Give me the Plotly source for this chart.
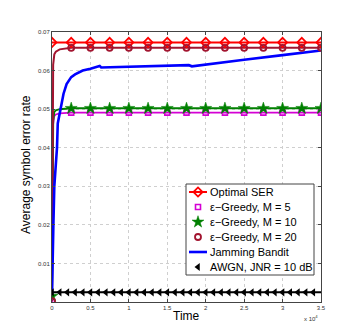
import plotly.graph_objects as go

# Time axis in units of 1e4
t_mark = [0.0, 0.25, 0.5, 0.75, 1.0, 1.25, 1.5, 1.75, 2.0, 2.25, 2.5, 2.75, 3.0, 3.25, 3.5]
opt_ser = [0.0673] * 15

t_greedy = [0.0, 0.004, 0.008, 0.015, 0.03, 0.05, 0.1, 0.15, 0.25, 0.5, 0.75, 1.0, 1.25, 1.5,
            1.75, 2.0, 2.25, 2.5, 2.75, 3.0, 3.25, 3.5]
greedy_m5 = [0.0, 0.02, 0.04, 0.046, 0.0482, 0.0486, 0.0489, 0.049, 0.0491, 0.0491, 0.0491,
             0.0491, 0.0491, 0.0491, 0.0491, 0.0491, 0.0491, 0.0491, 0.0491, 0.0491, 0.0491, 0.0491]
greedy_m10 = [0.0015, 0.02, 0.042, 0.047, 0.0493, 0.0497, 0.05, 0.0501, 0.0502, 0.0502, 0.0502,
              0.0502, 0.0502, 0.0502, 0.0502, 0.0502, 0.0502, 0.0502, 0.0502, 0.0502, 0.0502, 0.0502]
greedy_m20 = [0.0002, 0.03, 0.055, 0.0615, 0.0642, 0.0649, 0.0655, 0.0657, 0.0659, 0.0659, 0.0659,
              0.0659, 0.0659, 0.0659, 0.0659, 0.0659, 0.0659, 0.0659, 0.0659, 0.0659, 0.0659, 0.0659]

t_bandit = [0.0, 0.005, 0.012, 0.018, 0.03, 0.065, 0.075, 0.11, 0.15, 0.19, 0.25, 0.3, 0.4, 0.5,
            0.6, 0.62, 0.64, 1.0, 1.5, 1.78, 1.82, 2.0, 2.5, 3.0, 3.5]
bandit = [0.002, 0.01, 0.016, 0.02, 0.03, 0.04, 0.0463, 0.05, 0.054, 0.0565, 0.0583, 0.059,
          0.06, 0.0605, 0.0611, 0.0612, 0.0608, 0.061, 0.0612, 0.0614, 0.0611, 0.0616, 0.0628,
          0.064, 0.0652]

t_awgn = [i / 10 for i in range(0, 35)] + [3.5]
awgn = [0.0025] * len(t_awgn)

xticks = [0, 0.5, 1, 1.5, 2, 2.5, 3, 3.5]
xticklabels = ["0", "0.5", "1", "1.5", "2", "2.5", "3", "3.5"]
yticks = [0.01, 0.02, 0.03, 0.04, 0.05, 0.06, 0.07]
yticklabels = ["0.01", "0.02", "0.03", "0.04", "0.05", "0.06", "0.07"]

legend_labels = ["Optimal SER", "\u03b5\u2212Greedy, M = 5", "\u03b5\u2212Greedy, M = 10",
                 "\u03b5\u2212Greedy, M = 20", "Jamming Bandit", "AWGN, JNR = 10 dB"]

RED = "#ff0000"
MAG = "#d400d4"
GRN = "#008000"
DRED = "#a2142f"
BLUE = "#0000ff"
FONT = "Liberation Sans, Arial, sans-serif"

W, H = 346, 331
L, R, T, B = 44, 33, 24, 37

def px_x(px):
    return (px - L) / (W - L - R)

def px_y(py):
    return (H - B - py) / (H - T - B)

def at_marks(ts, vs):
    mx, my = [], []
    for tt, vv in zip(ts, vs):
        if abs(tt * 4 - round(tt * 4)) < 1e-9:
            mx.append(tt)
            my.append(vv)
    return mx, my

m_opt = dict(symbol="diamond-open", size=7, color=RED, line=dict(color=RED, width=1.8))
m_m5 = dict(symbol="square-open", size=5, color=MAG, line=dict(color=MAG, width=1.6))
m_m10 = dict(symbol="star", size=9, color=GRN, line=dict(color=GRN, width=0.5))
m_m20 = dict(symbol="circle-open", size=6, color=DRED, line=dict(color=DRED, width=1.8))
m_awgn = dict(symbol="triangle-left", size=7, color="#000000", line=dict(width=0))

fig = go.Figure()

for ts, vs, col, w in [(t_greedy, greedy_m5, MAG, 1.6), (t_greedy, greedy_m10, GRN, 2),
                       (t_greedy, greedy_m20, DRED, 2), (t_awgn, awgn, "#000000", 2)]:
    fig.add_trace(go.Scatter(x=ts, y=vs, mode="lines", line=dict(color=col, width=w),
                             showlegend=False))

fig.add_trace(go.Scatter(x=t_bandit, y=bandit, mode="lines", line=dict(color=BLUE, width=2.6),
                         showlegend=False))
fig.add_trace(go.Scatter(x=t_mark, y=opt_ser, mode="lines+markers", line=dict(color=RED, width=2),
                         marker=m_opt, showlegend=False))
for ts, vs, mk in [(t_greedy, greedy_m5, m_m5), (t_greedy, greedy_m10, m_m10),
                   (t_greedy, greedy_m20, m_m20)]:
    mx, my = at_marks(ts, vs)
    fig.add_trace(go.Scatter(x=mx, y=my, mode="markers", marker=mk, showlegend=False))
fig.add_trace(go.Scatter(x=t_awgn[:-1], y=awgn[:-1], mode="markers", marker=m_awgn,
                         showlegend=False))

# ---- custom legend on a pixel-coordinate overlay axis ----
lx0, lx1, ly0, ly1 = 178, 306, 176, 267
row_y = [184 + 15 * i for i in range(6)]
sym_x0, sym_x1, sym_xc = 181, 199, 190
text_x = 200

fig.add_trace(go.Scatter(x=[lx0, lx1, lx1, lx0, lx0], y=[ly0, ly0, ly1, ly1, ly0],
                         mode="lines", fill="toself", fillcolor="white",
                         line=dict(color="#444444", width=1), xaxis="x2", yaxis="y2",
                         showlegend=False, hoverinfo="skip"))
fig.add_trace(go.Scatter(x=[sym_x0, sym_x1], y=[row_y[0]] * 2, mode="lines",
                         line=dict(color=RED, width=2), xaxis="x2", yaxis="y2", showlegend=False))
fig.add_trace(go.Scatter(x=[sym_x0, sym_x1], y=[row_y[4]] * 2, mode="lines",
                         line=dict(color=BLUE, width=2.6), xaxis="x2", yaxis="y2", showlegend=False))
for i, mk in [(0, m_opt), (1, m_m5), (2, m_m10), (3, m_m20), (5, m_awgn)]:
    fig.add_trace(go.Scatter(x=[sym_xc], y=[row_y[i]], mode="markers", marker=mk,
                             xaxis="x2", yaxis="y2", showlegend=False))

annotations = []
for i, lab in enumerate(legend_labels):
    annotations.append(dict(text=lab, x=text_x, y=row_y[i], xref="x2", yref="y2",
                            xanchor="left", yanchor="middle", showarrow=False,
                            font=dict(family=FONT, size=11, color="#000000")))
annotations.append(dict(text="x 10<sup>4</sup>", x=px_x(303), y=px_y(310), xref="paper",
                        yref="paper", xanchor="center", yanchor="middle", showarrow=False,
                        font=dict(family=FONT, size=6, color="#333333")))
annotations.append(dict(text="Time", x=px_x(178), y=px_y(308), xref="paper", yref="paper",
                        xanchor="center", yanchor="middle", showarrow=False,
                        font=dict(family=FONT, size=12, color="#000000")))
annotations.append(dict(text="Average symbol error rate", x=px_x(18), y=px_y(157),
                        xref="paper", yref="paper", xanchor="center", yanchor="middle",
                        showarrow=False, textangle=-90,
                        font=dict(family=FONT, size=12, color="#000000")))

axis_common = dict(showline=True, linecolor="#444444", linewidth=1, mirror="ticks",
                   ticks="inside", ticklen=3, tickcolor="#444444",
                   showgrid=True, gridcolor="#cfcfcf", griddash="dot", gridwidth=1,
                   zeroline=False, tickfont=dict(family=FONT, size=6, color="#333333"))

fig.update_layout(
    width=W, height=H,
    margin=dict(l=L, r=R, t=T, b=B),
    paper_bgcolor="white", plot_bgcolor="white",
    font=dict(family=FONT, color="#000000"),
    showlegend=False,
    xaxis=dict(range=[0, 3.5], tickvals=xticks, ticktext=xticklabels, **axis_common),
    yaxis=dict(range=[0, 0.07], tickvals=yticks, ticktext=yticklabels, **axis_common),
    xaxis2=dict(range=[L, W - R], overlaying="x", visible=False, fixedrange=True),
    yaxis2=dict(range=[H - B, T], overlaying="y", visible=False, fixedrange=True),
    annotations=annotations,
)

fig.write_html("out.html")
